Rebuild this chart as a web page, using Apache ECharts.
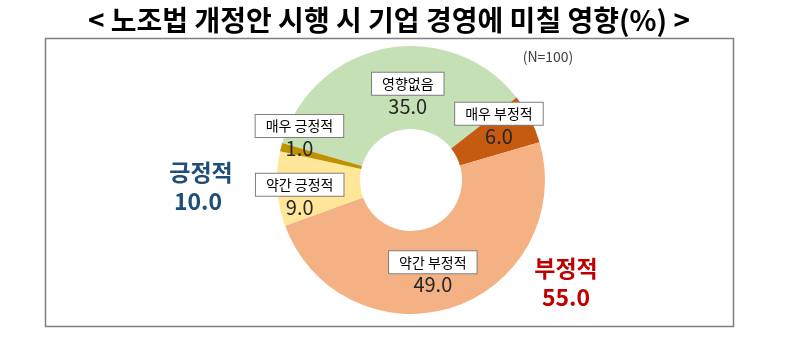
<!DOCTYPE html>
<html><head><meta charset="utf-8">
<script src="https://cdn.jsdelivr.net/npm/echarts@6/dist/echarts.min.js"></script>
<style>html,body{margin:0;padding:0;background:#fff}#c{width:800px;height:362px}</style>
</head><body><div id="c"></div>
<script>
const titleText = '< 노조법 개정안 시행 시 기업 경영에 미칠 영향(%) >';
const sampleNote = '(N=100)';
const categories = ['영향없음', '매우 부정적', '약간 부정적', '약간 긍정적', '매우 긍정적'];
const values = [35.0, 6.0, 49.0, 9.0, 1.0];
const positiveGroup = ['약간 긍정적', '매우 긍정적'];
const negativeGroup = ['매우 부정적', '약간 부정적'];
const positiveLabel = '긍정적';
const negativeLabel = '부정적';

const colors = ['#c5e0b4', '#c55a11', '#f4b183', '#ffe699', '#bf9000'];
const labelShift = [[15, 11], [3, -9], [-8, 5], [-16, 12], [-19, -17]];

const sumOf = g => categories.reduce((s, c, i) => g.includes(c) ? s + values[i] : s, 0);
const posTotal = sumOf(positiveGroup).toFixed(1);
const negTotal = sumOf(negativeGroup).toFixed(1);

const FONT = '"Noto Sans CJK KR", "Noto Sans", sans-serif';
const chart = echarts.init(document.getElementById('c'), null, {renderer: 'canvas'});
chart.setOption({
  animation: false,
  graphic: [
    {type: 'rect', shape: {x: 45.5, y: 38.5, width: 688, height: 288}, style: {fill: 'none', stroke: '#7f7f7f', lineWidth: 1.5}, z: 0},
    {type: 'text', x: 389, y: 20, style: {text: titleText, font: 'bold 28px ' + FONT, fill: '#000', textAlign: 'center', textVerticalAlign: 'middle'}},
    {type: 'text', x: 548, y: 57, style: {text: sampleNote, font: '14px ' + FONT, fill: '#404040', textAlign: 'center', textVerticalAlign: 'middle'}},
    {type: 'text', x: 201, y: 172, style: {text: positiveLabel, font: 'bold 23px ' + FONT, fill: '#1f4e79', textAlign: 'center', textVerticalAlign: 'middle'}},
    {type: 'text', x: 198, y: 201, style: {text: posTotal, font: 'bold 23px ' + FONT, fill: '#1f4e79', textAlign: 'center', textVerticalAlign: 'middle'}},
    {type: 'text', x: 566, y: 268, style: {text: negativeLabel, font: 'bold 23px ' + FONT, fill: '#c00000', textAlign: 'center', textVerticalAlign: 'middle'}},
    {type: 'text', x: 566, y: 297, style: {text: negTotal, font: 'bold 23px ' + FONT, fill: '#c00000', textAlign: 'center', textVerticalAlign: 'middle'}}
  ],
  series: [{
    type: 'pie',
    center: [411, 180],
    radius: [51, 134],
    startAngle: 164,
    clockwise: true,
    silent: true,
    avoidLabelOverlap: false,
    labelLine: {show: false},
    data: categories.map((c, i) => ({name: c, value: values[i], itemStyle: {color: colors[i]}})),
    label: {
      show: true,
      position: 'inside',
      formatter: p => '{box|' + p.name + '}\n{val|' + p.value.toFixed(1) + '}',
      rich: {
        box: {fontFamily: FONT, fontSize: 14, color: '#000', lineHeight: 18, padding: [4, 10], backgroundColor: '#fff', borderColor: '#7f7f7f', borderWidth: 1, align: 'center'},
        val: {fontFamily: FONT, fontSize: 20, color: '#262626', lineHeight: 27, align: 'center'}
      }
    },
    labelLayout: p => ({dx: labelShift[p.dataIndex][0], dy: labelShift[p.dataIndex][1]})
  }]
});
</script></body></html>
